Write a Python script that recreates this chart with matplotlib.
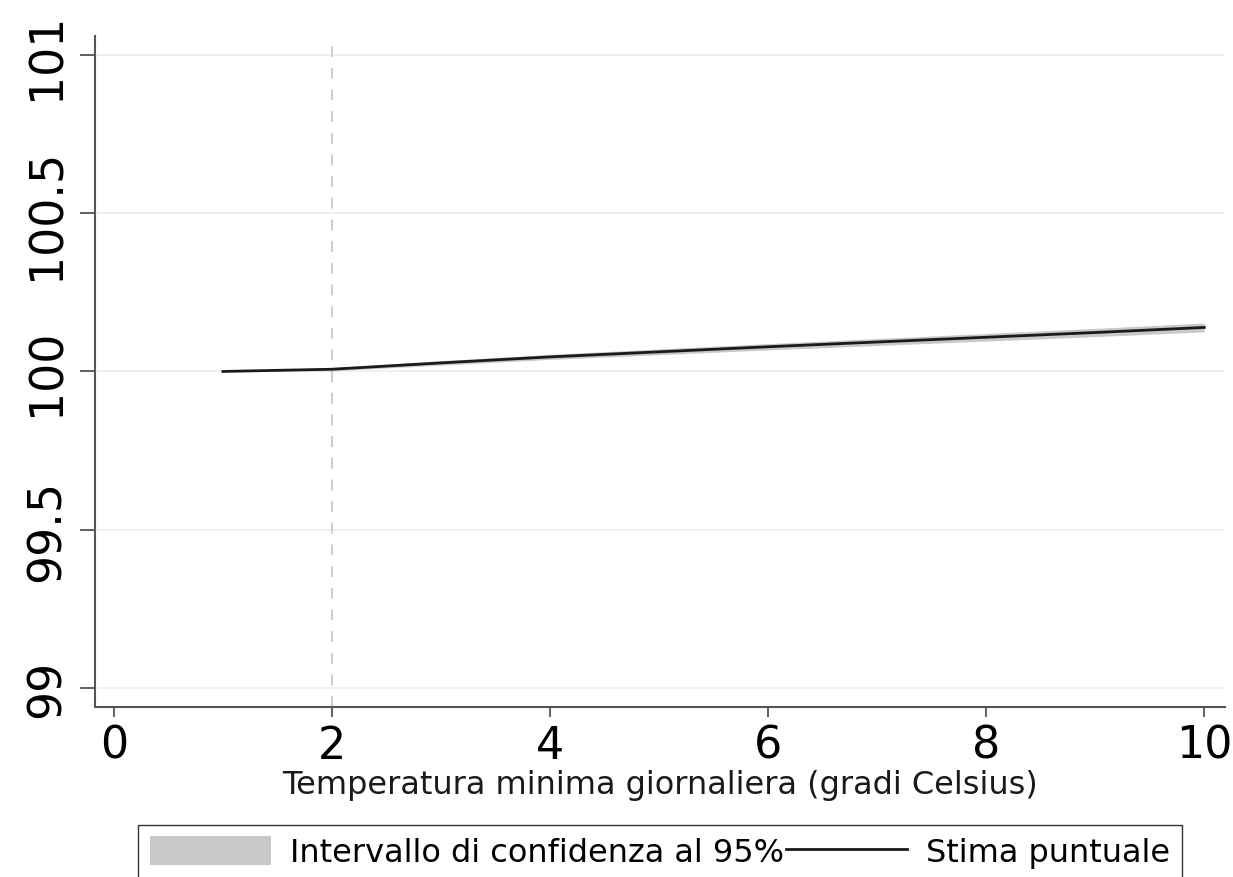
import numpy as np
import matplotlib.pyplot as plt
from matplotlib.patches import Patch
from matplotlib.lines import Line2D

# temperatura minima (gradi) e stima puntuale con intervallo al 95%
temp = [1, 2, 3, 4, 5, 6, 7, 8, 9, 10]
stima = [100.0, 100.007, 100.027, 100.046, 100.062, 100.078, 100.093, 100.108, 100.123, 100.139]
ci_low = [100.0, 100.002, 100.020, 100.038, 100.053, 100.068, 100.082, 100.096, 100.110, 100.125]
ci_high = [100.0, 100.012, 100.034, 100.054, 100.071, 100.088, 100.104, 100.120, 100.136, 100.153]
ref_temp = 2

yticks = [99, 99.5, 100, 100.5, 101]
ytick_labels = ['99', '99.5', '100', '100.5', '101']
xticks = [0, 2, 4, 6, 8, 10]

fig = plt.figure(figsize=(12.33, 8.78), dpi=100)
ax = fig.add_axes([0.077, 0.1936, 0.9165, 0.7644])

ax.fill_between(temp, ci_low, ci_high, color='#c8c8c8', lw=0)
ax.plot(temp, stima, color='#1a1a1a', lw=2)
ax.axvline(ref_temp, color='#c8c8c8', lw=1.3, ls=(0, (6, 6)))

ax.set_xlim(-0.174, 10.19)
ax.set_ylim(98.94, 101.06)
ax.set_yticks(yticks)
ax.set_yticklabels(ytick_labels)
ax.set_xticks(xticks)
ax.grid(axis='y', color='#e6eff0', lw=1.2)
ax.set_axisbelow(True)

for s in ['top', 'right']:
    ax.spines[s].set_visible(False)
for s in ['left', 'bottom']:
    ax.spines[s].set_color('#555555')
    ax.spines[s].set_linewidth(1.5)

ax.tick_params(axis='y', labelsize=33, length=11, width=1.3, color='#555555', pad=7, labelrotation=90)
ax.tick_params(axis='x', labelsize=32, length=7, width=1.3, color='#555555', pad=5)
for lab in ax.get_yticklabels():
    lab.set_va('center')

ax.set_xlabel('Temperatura minima giornaliera (gradi Celsius)', fontsize=23, color='#1a1a1a', labelpad=2)

handles = [Patch(facecolor='#c8c8c8', edgecolor='none'),
           Line2D([], [], color='#1a1a1a', lw=2)]
fig.legend(handles, ['Intervallo di confidenza al 95%', 'Stima puntuale'],
           loc='upper center', bbox_to_anchor=(660 / 1233, 1 - 826 / 878),
           ncol=2, fontsize=23, frameon=True, fancybox=False, edgecolor='#333333',
           framealpha=1, handlelength=3.8, handleheight=1.0, handletextpad=0.6,
           columnspacing=0.05, borderpad=0.35, borderaxespad=0)

fig.savefig('out.png', dpi=100)
